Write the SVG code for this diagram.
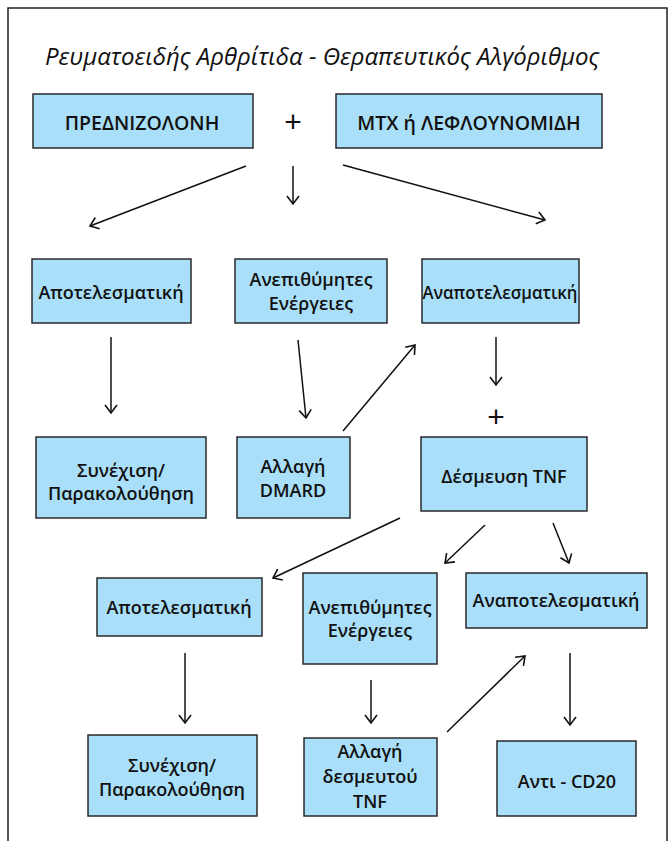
<svg xmlns="http://www.w3.org/2000/svg" width="670" height="841" viewBox="0 0 670 841">
<style>
.bx{fill:#aadff9;stroke:#2a2a2a;stroke-width:1.5}
.t{font-family:"Open Sans","Noto Sans","DejaVu Sans",sans-serif;font-weight:600;font-size:18px;text-anchor:middle;fill:#111}
.cap{font-size:19.5px}
.title{font-family:"Open Sans","Noto Sans","DejaVu Sans",sans-serif;font-style:italic;font-weight:500;font-size:24px;fill:#111}
.plus{font-family:"Liberation Sans","DejaVu Sans",sans-serif;font-weight:400;font-size:30px;text-anchor:middle;fill:#111}
.c line{stroke:#111;stroke-width:1.5;marker-end:url(#ah)}
</style>
<defs>
<marker id="ah" markerUnits="userSpaceOnUse" markerWidth="20" markerHeight="20" refX="10" refY="10" orient="auto" viewBox="0 0 20 20">
<path d="M2,4 L10,10 L2,16" fill="none" stroke="#111" stroke-width="1.6"/>
</marker>
</defs>
<rect width="670" height="841" fill="#fff"/>
<path d="M8,841 V8 H667 V841" fill="none" stroke="#222" stroke-width="1.5"/>
<text class="title" x="45" y="65">Ρευματοειδής Αρθρίτιδα - Θεραπευτικός Αλγόριθμος</text>

<g id="prednizolone"><rect class="bx" x="33" y="94" width="220" height="54"/><text class="t cap" x="142" y="130">ΠΡΕΔΝΙΖΟΛΟΝΗ</text></g>
<text class="plus" x="293" y="132">+</text>
<g id="mtx"><rect class="bx" x="336" y="94" width="266" height="54"/><text class="t cap" x="469" y="130">MTX ή ΛΕΦΛΟΥΝΟΜΙΔΗ</text></g>

<g id="eff1"><rect class="bx" x="32" y="259" width="159" height="64"/><text class="t" x="111" y="299">Αποτελεσματική</text></g>
<g id="adv1"><rect class="bx" x="235" y="259" width="152" height="64"/><text class="t" x="311" y="286">Ανεπιθύμητες</text><text class="t" x="311" y="310">Ενέργειες</text></g>
<g id="ineff1"><rect class="bx" x="422" y="259" width="157" height="64"/><text class="t" x="500" y="299" textLength="155" lengthAdjust="spacingAndGlyphs">Αναποτελεσματική</text></g>

<g id="cont1"><rect class="bx" x="36" y="437" width="170" height="81"/><text class="t" x="121" y="477">Συνέχιση/</text><text class="t" x="121" y="500">Παρακολούθηση</text></g>
<g id="dmard"><rect class="bx" x="237" y="437" width="113" height="81"/><text class="t" x="293" y="473">Αλλαγή</text><text class="t" x="293" y="497">DMARD</text></g>
<text class="plus" x="496" y="427">+</text>
<g id="tnf"><rect class="bx" x="421" y="437" width="166" height="74"/><text class="t" x="504" y="483">Δέσμευση TNF</text></g>

<g id="eff2"><rect class="bx" x="97" y="578" width="165" height="58"/><text class="t" x="179" y="614">Αποτελεσματική</text></g>
<g id="adv2"><rect class="bx" x="303" y="573" width="134" height="91"/><text class="t" x="370" y="614">Ανεπιθύμητες</text><text class="t" x="370" y="637">Ενέργειες</text></g>
<g id="ineff2"><rect class="bx" x="466" y="573" width="181" height="55"/><text class="t" x="556" y="607">Αναποτελεσματική</text></g>

<g id="cont2"><rect class="bx" x="88" y="735" width="169" height="81"/><text class="t" x="172" y="772">Συνέχιση/</text><text class="t" x="172" y="796">Παρακολούθηση</text></g>
<g id="switch"><rect class="bx" x="304" y="738" width="133" height="78"/><text class="t" x="370" y="758">Αλλαγή</text><text class="t" x="370" y="783">δεσμευτού</text><text class="t" x="370" y="808">TNF</text></g>
<g id="cd20"><rect class="bx" x="497" y="741" width="139" height="75"/><text class="t" x="567" y="788">Αντι - CD20</text></g>

<g id="connectors" class="c">
<line x1="246" y1="166" x2="90" y2="226"/>
<line x1="293" y1="166" x2="293" y2="204"/>
<line x1="343" y1="165" x2="545" y2="220"/>
<line x1="111" y1="337" x2="111" y2="413"/>
<line x1="298" y1="340" x2="306" y2="418"/>
<line x1="343" y1="431" x2="415" y2="345"/>
<line x1="496" y1="337" x2="496" y2="385"/>
<line x1="400" y1="518" x2="273" y2="578"/>
<line x1="485" y1="525" x2="445" y2="563"/>
<line x1="553" y1="523" x2="569" y2="563"/>
<line x1="185" y1="653" x2="185" y2="723"/>
<line x1="371" y1="680" x2="371" y2="723"/>
<line x1="447" y1="732" x2="525" y2="656"/>
<line x1="570" y1="653" x2="570" y2="725"/>
</g>
</svg>
